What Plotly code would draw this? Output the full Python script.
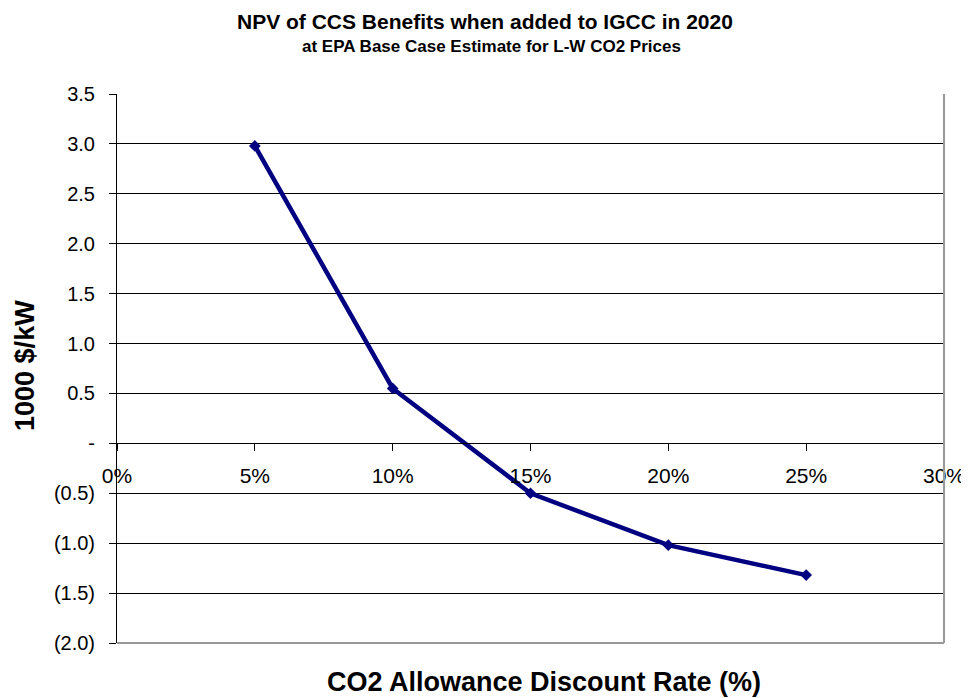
import plotly.graph_objects as go

discount_rate = [5, 10, 15, 20, 25]
npv_benefit = [2.98, 0.55, -0.50, -1.02, -1.32]

x_ticks = [0, 5, 10, 15, 20, 25, 30]
x_tick_labels = ["0%", "5%", "10%", "15%", "20%", "25%", "30%"]
y_ticks = [3.5, 3.0, 2.5, 2.0, 1.5, 1.0, 0.5, 0.0, -0.5, -1.0, -1.5, -2.0]
y_tick_labels = ["3.5", "3.0", "2.5", "2.0", "1.5", "1.0", "0.5", "-",
                 "(0.5)", "(1.0)", "(1.5)", "(2.0)"]

y_min, y_max = -2.0, 3.5
FONT = "Liberation Sans, Arial, sans-serif"

fig = go.Figure()
fig.add_trace(go.Scatter(
    x=discount_rate, y=npv_benefit, mode="lines+markers",
    line=dict(color="#000080", width=4.5),
    marker=dict(symbol="diamond", size=9, color="#000080"),
    showlegend=False, hoverinfo="skip"))

fig.update_layout(
    width=961, height=690,
    margin=dict(l=109, r=25, t=86, b=55, autoexpand=False),
    paper_bgcolor="white", plot_bgcolor="white",
    font=dict(family=FONT, color="black", size=20),
    xaxis=dict(range=[0, 30], tickvals=x_ticks, ticktext=x_tick_labels,
               showgrid=False, zeroline=False, showline=True,
               linecolor="black", linewidth=1,
               ticks="outside", ticklen=7, tickcolor="black",
               ticklabelstandoff=6, automargin=False,
               anchor="free", position=(0 - y_min) / (y_max - y_min),
               tickfont=dict(size=21), fixedrange=True),
    yaxis=dict(range=[y_min, y_max], tickvals=y_ticks, ticktext=y_tick_labels,
               showgrid=True, gridcolor="#000000", gridwidth=1,
               zeroline=False, showline=True, linecolor="black", linewidth=1,
               ticks="outside", ticklen=7, tickcolor="black",
               ticklabelstandoff=10, automargin=False,
               tickfont=dict(size=20), fixedrange=True),
    annotations=[
        dict(text="<b>NPV of CCS Benefits when added to IGCC in 2020</b>",
             xref="paper", yref="paper", x=0.445, y=1, yshift=86,
             xanchor="center", yanchor="top", showarrow=False,
             font=dict(size=21)),
        dict(text="<b>at EPA Base Case Estimate for L-W CO2 Prices</b>",
             xref="paper", yref="paper", x=0.453, y=1, yshift=48,
             xanchor="center", yanchor="middle", showarrow=False,
             font=dict(size=17)),
        dict(text="<b>CO2 Allowance Discount Rate (%)</b>",
             xref="paper", yref="paper", x=0.516, y=0, yshift=-39,
             xanchor="center", yanchor="middle", showarrow=False,
             font=dict(size=27)),
        dict(text="<b>1000 $/kW</b>", textangle=-90,
             xref="paper", yref="paper", x=-0.111, y=0.505,
             xanchor="center", yanchor="middle", showarrow=False,
             font=dict(size=27)),
    ],
    shapes=[
        dict(type="line", xref="x domain", yref="y domain", x0=1, x1=1, y0=0, y1=1,
             line=dict(color="#999999", width=2)),
        dict(type="line", xref="x domain", yref="y domain", x0=0, x1=1, y0=0, y1=0,
             line=dict(color="#999999", width=2)),
    ],
)

fig.write_html("out.html")
